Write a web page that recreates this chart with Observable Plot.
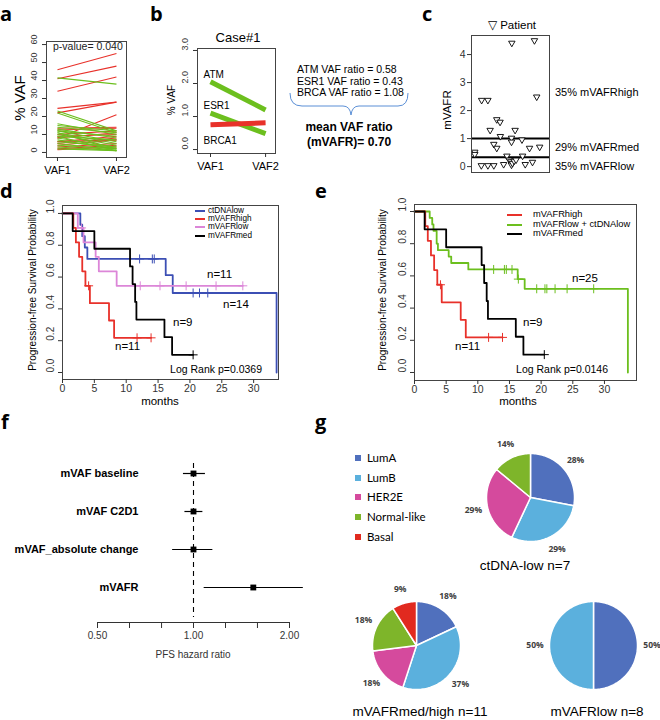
<!DOCTYPE html>
<html><head><meta charset="utf-8">
<script src="https://cdn.jsdelivr.net/npm/d3@7"></script>
<script src="https://cdn.jsdelivr.net/npm/@observablehq/plot@0.6"></script>
<style>
html,body{margin:0;padding:0;background:#fff;}
#root{position:relative;width:660px;height:720px;overflow:hidden;background:#fff;}
</style></head><body><div id="root"></div>
<script>
// ================= DATA =================
// panel a : paired VAF per mutation
const aCats = ["VAF1", "VAF2"];
const aVaf1 = [46, 41, 34, 24.5, 22, 8, 13.5, 12.5, 10, 8, 6, 5, 4, 3, 2, 1.5, 9, 6,
               41.5, 23, 22, 16, 15, 14, 12, 11, 10, 9, 8, 7, 6, 5, 4, 3, 2, 12, 11, 9, 13];
const aVaf2 = [55, 48, 42, 28, 28, 21, 14, 13.5, 12, 11, 9, 8, 7, 5, 4, 3, 10, 7,
               38, 12, 11, 10, 12, 11, 6, 5, 4, 7, 3, 2, 3, 1, 2, 1, 1, 9, 2, 1, 8];
const aYTicks = [0, 10, 20, 30, 40, 50, 60];
const aPValue = "p-value= 0.040";

// panel b : Case#1
const bGenes = ["ATM", "ESR1", "BRCA1"];
const bVaf1 = [2.05, 1.10, 0.75];
const bVaf2 = [1.20, 0.48, 0.81];
const bRatioNames = ["ATM", "ESR1", "BRCA"];
const bRatios = ["0.58", "0.43", "1.08"];
const bMean = "0.70";
const bYTicks = [0, 1, 2, 3];

// panel c : mVAFR per patient (x = jitter position)
const cX = [0.42, 0.42, 1.30, 2.10, 1.26, 2.10, 2.39, 2.86, 2.86, 3.24, 3.24, 3.66, 3.70, 4.12, 4.54, 4.83, 5.04,
            5.13, 5.17, 5.13, 5.13, 5.25, 5.46, 5.71, 5.59, 6.47, 6.55, 6.89, 7.44, 7.82, 8.07, 8.36, 8.74];
const cY = [0.52, 0.44, 2.37, 2.37, 0.04, 0.04, 1.30, 0.80, 0.04, 1.68, 0.66, 1.59, 1.08, 0.08, 0.38, 0.24, 0.18,
            0.06, 4.41, 1.02, 0.88, 0.12, 0.20, 0.24, 1.30, 0.96, 0.38, 0.08, 0.66, 0.16, 4.50, 2.49, 0.70];
const cCuts = [1.0, 0.33];
const cGroupLabels = ["35% mVAFRhigh", "29% mVAFRmed", "35% mVAFRlow"];
const cYTicks = [0, 1, 2, 3, 4];

// panels d/e : Kaplan-Meier step points (time in months, survival) and censor times
const kmHighT = [0, 1.7, 2.1, 2.6, 3.1, 3.6, 4.3, 7.3, 8.1, 13.9];
const kmHighS = [1, 0.909, 0.818, 0.727, 0.636, 0.545, 0.436, 0.327, 0.218, 0.218];
const kmHighC = [4.1, 11.7, 13.9];
const kmMedT = [0, 1.6, 5.0, 10.6, 11.0, 11.4, 11.6, 16.0, 17.2, 20.5];
const kmMedS = [1, 0.889, 0.778, 0.667, 0.556, 0.444, 0.333, 0.222, 0.111, 0.111];
const kmMedC = [20.5];
const kmLowT = [0, 2.4, 3.3, 5.2, 5.7, 8.5, 28.3];
const kmLowS = [1, 0.909, 0.818, 0.727, 0.636, 0.545, 0.545];
const kmLowC = [3.0, 12.2, 15.3, 19.4, 24.1, 28.3];
const kmCtT = [0, 2.8, 3.1, 3.5, 3.9, 16.2, 17.3, 33.6];
const kmCtS = [1, 0.929, 0.857, 0.786, 0.714, 0.612, 0.5, 0];
const kmCtC = [12.1, 14.1, 14.4, 20.5, 21.5, 22.8];
const kmLowCtT = [0, 2.4, 2.8, 3.0, 3.5, 3.7, 5.4, 5.8, 8.5, 16.3, 17.4, 33.7];
const kmLowCtS = [1, 0.96, 0.92, 0.88, 0.80, 0.76, 0.72, 0.68, 0.64, 0.58, 0.52, 0];
const kmLowCtC = [11.0, 12.5, 14.2, 14.5, 15.4, 16.4, 19.3, 20.6, 20.9, 22.2, 24.1, 28.3];
const kmXTicks = [0, 5, 10, 15, 20, 25, 30];
const kmYTicks = [0, 0.2, 0.4, 0.6, 0.8, 1.0];
const dNames = ["ctDNAlow", "mVAFRhigh", "mVAFRlow", "mVAFRmed"];
const dN = ["n=11", "n=14", "n=9", "n=11"];
const dP = "Log Rank p=0.0369";
const eNames = ["mVAFRhigh", "mVAFRlow + ctDNAlow", "mVAFRmed"];
const eN = ["n=25", "n=9", "n=11"];
const eP = "Log Rank p=0.0146";

// panel f : forest plot
const fVars = ["mVAF baseline", "mVAF C2D1", "mVAF_absolute change", "mVAFR"];
const fHR = [1.00, 1.00, 1.00, 1.54];
const fLo = [0.93, 0.94, 0.86, 1.08];
const fHi = [1.09, 1.07, 1.15, 2.21];
const fTicks = [0.5, 0.63, 0.794, 1, 1.26, 1.587, 2];
const fLabeled = [0.5, 1, 2];

// panel g : PAM50 subtype shares (%)
const gTypes = ["LumA", "LumB", "HER2E", "Normal-like", "Basal"];
const gCtLow = [28, 29, 29, 14, 0];
const gMedHigh = [18, 37, 18, 18, 9];
const gLowV = [50, 50, 0, 0, 0];
const gTitles = ["ctDNA-low n=7", "mVAFRmed/high n=11", "mVAFRlow n=8"];

// ================= STYLE =================
const FONT = "'Liberation Sans', Arial, sans-serif";
const RED = "#e8312a", GREEN = "#6cbf1e", BLUE = "#3c4fb4", PINK = "#dc86d8", BLACK = "#000";
const gColors = ["#5070bd", "#5bb0dd", "#d54a9d", "#7eb52a", "#e12a1f"];

const root = document.getElementById("root");
function place(el, left, top) {
  el.style.position = "absolute"; el.style.left = left + "px"; el.style.top = top + "px";
  el.style.background = "transparent"; el.style.overflow = "visible"; el.style.maxWidth = "none";
  root.appendChild(el); return el;
}
const overlays = [];
function txt(s, x, y, o = {}) {
  const {size = 10, anchor = "start", weight = "normal", family = FONT, rotate = 0, color = "#000"} = o;
  const d = document.createElement("div");
  d.textContent = s;
  d.style.cssText = `position:absolute;left:${x}px;top:${y}px;font-family:${family};font-size:${size}px;font-weight:${weight};color:${color};white-space:nowrap;line-height:1;`;
  const tx = anchor === "start" ? "0%" : anchor === "middle" ? "-50%" : "-100%";
  d.style.transform = `translate(${tx},-50%)` + (rotate ? ` rotate(${rotate}deg)` : "");
  overlays.push(d); return d;
}
function letter(s, x, base) {
  const size = 20;
  const d = document.createElement("div");
  d.textContent = s;
  d.style.cssText = `position:absolute;left:${x}px;top:${Math.max(0, base - 1.069 * size)}px;font-family:'Open Sans',sans-serif;font-size:${size}px;font-weight:bold;line-height:normal;color:#000;`;
  overlays.push(d);
}
function legendLine(color, x1, x2, y) {
  const d = document.createElement("div");
  d.style.cssText = `position:absolute;left:${x1}px;top:${y - 1}px;width:${x2 - x1}px;height:2px;background:${color};`;
  overlays.push(d);
}
function rotYLabels(ticks, fmt, dx, size) {
  return [
    Plot.axisY({ticks, tickSize: 4, tickFormat: () => "", stroke: "#333"}),
    Plot.text(ticks, {y: d => d, text: fmt, frameAnchor: "left", dx, rotate: -90, fontSize: size, fill: "#333"})
  ];
}
const baseStyle = {fontFamily: FONT, background: "transparent", overflow: "visible"};

// ================= PANEL A =================
const aRows = aVaf1.map((v, i) => ({v1: v, v2: aVaf2[i], up: aVaf2[i] > v}));
place(Plot.plot({
  width: 130, height: 178, marginLeft: 46, marginRight: 4, marginTop: 41, marginBottom: 21,
  style: baseStyle,
  x: {domain: [0.814, 2.17], label: null}, y: {domain: [-2.8, 61.7], label: null},
  marks: [
    Plot.link(aRows.filter(d => d.up), {x1: 1, x2: 2, y1: "v1", y2: "v2", stroke: RED, strokeWidth: 1.1}),
    Plot.link(aRows.filter(d => !d.up), {x1: 1, x2: 2, y1: "v1", y2: "v2", stroke: GREEN, strokeWidth: 1.1}),
    Plot.frame({stroke: "#444"}),
    ...rotYLabels(aYTicks, d => String(d), -12, 9),
    Plot.axisX({ticks: [1, 2], tickSize: 4, tickFormat: d => aCats[d - 1], fontSize: 11, stroke: "#333"})
  ]
}), 0, 0);
txt(aPValue, 53, 46, {size: 10.5, color: "#222"});
txt("% VAF", 19, 98, {size: 15, anchor: "middle", rotate: -90});

// ================= PANEL B =================
const bRows = bGenes.map((g, i) => ({gene: g, v1: bVaf1[i], v2: bVaf2[i], up: bVaf2[i] > bVaf1[i]}));
place(Plot.plot({
  width: 135, height: 180, marginLeft: 47, marginRight: 10, marginTop: 48, marginBottom: 27,
  style: baseStyle,
  x: {domain: [0.764, 2.18], label: null}, y: {domain: [-0.12, 3.06], label: null},
  marks: [
    Plot.link(bRows.filter(d => !d.up), {x1: 1, x2: 2, y1: "v1", y2: "v2", stroke: GREEN, strokeWidth: 5}),
    Plot.link(bRows.filter(d => d.up), {x1: 1, x2: 2, y1: "v1", y2: "v2", stroke: RED, strokeWidth: 5}),
    Plot.text(bRows.filter(d => d.gene !== "BRCA1"), {x: 1, y: "v1", text: "gene", textAnchor: "start", dx: -7, dy: -7, fontSize: 10}),
    Plot.text(bRows.filter(d => d.gene === "BRCA1"), {x: 1, y: "v1", text: "gene", textAnchor: "start", dx: -7, dy: 16, fontSize: 10}),
    Plot.frame({stroke: "#444"}),
    ...rotYLabels(bYTicks, d => d.toFixed(1), -12, 9),
    Plot.axisX({ticks: [1, 2], tickSize: 4, tickFormat: d => aCats[d - 1], fontSize: 11, stroke: "#333"})
  ]
}), 150, 0);
txt("Case#1", 238, 37, {size: 13, anchor: "middle"});
txt("% VAF", 172, 100, {size: 10, anchor: "middle", rotate: -90});
bRatioNames.forEach((n, i) => txt(`${n} VAF ratio = ${bRatios[i]}`, 297, 69 + i * 11.5, {size: 10.5}));
txt("mean VAF ratio", 349, 127, {size: 12, anchor: "middle", weight: "bold"});
txt(`(mVAFR)= ${bMean}`, 349, 142, {size: 12, anchor: "middle", weight: "bold"});
{
  const ns = "http://www.w3.org/2000/svg";
  const svg = document.createElementNS(ns, "svg");
  svg.setAttribute("width", 660); svg.setAttribute("height", 200);
  svg.style.cssText = "position:absolute;left:0;top:0;overflow:visible;";
  const p = document.createElementNS(ns, "path");
  p.setAttribute("d", "M290,93 Q290,106 302,106 L343,106 Q350,106 351,115 Q352,106 359,106 L398,106 Q408,106 408,93");
  p.setAttribute("fill", "none"); p.setAttribute("stroke", "#5b8fd6"); p.setAttribute("stroke-width", "1");
  svg.appendChild(p);
  overlays.push(svg);
}

// ================= PANEL C =================
const triDown = {
  draw(context, size) {
    const y = Math.sqrt(size / (Math.sqrt(3) * 3)), s3 = Math.sqrt(3);
    context.moveTo(0, y * 2); context.lineTo(-s3 * y, -y); context.lineTo(s3 * y, -y); context.closePath();
  }
};
const cPts = cX.map((x, i) => ({x, y: cY[i]}));
place(Plot.plot({
  width: 160, height: 190, marginLeft: 71, marginRight: 11, marginTop: 35, marginBottom: 18,
  style: baseStyle,
  x: {domain: [0, 10], axis: null, label: null}, y: {domain: [-0.21, 4.68], label: null, axis: null},
  marks: [
    Plot.ruleY(cCuts, {stroke: "#000", strokeWidth: 2}),
    Plot.dot(cPts, {x: "x", y: "y", symbol: triDown, r: 2.4, stroke: "#000", fill: "white", strokeWidth: 0.9}),
    Plot.frame({stroke: "#444"}),
    Plot.axisY({ticks: cYTicks, tickSize: 4, tickPadding: 2, fontSize: 10.5, stroke: "#333", fill: "#333", tickFormat: d => String(d)})
  ]
}), 400, 0);
txt("\u25BD Patient", 512, 26, {size: 11.5, anchor: "middle"});
txt("mVAFR", 448, 110, {size: 11.5, anchor: "middle", rotate: -90});
txt(cGroupLabels[0], 555, 92, {size: 11});
txt(cGroupLabels[1], 555, 147, {size: 11});
txt(cGroupLabels[2], 555, 166, {size: 11});

// ================= KM helper =================
function kmData(groups) {
  const lines = [], cens = [];
  groups.forEach(g => {
    g.T.forEach((t, i) => lines.push({t, s: g.S[i], g: g.name}));
    g.C.forEach(c => cens.push({t: c, s: g.S[d3.bisectRight(g.T, c) - 1], g: g.name}));
  });
  return {lines, cens};
}
function kmPlot(groups, xMax, yDom, m) {
  const {lines, cens} = kmData(groups);
  const marks = [];
  groups.forEach(g => {
    marks.push(Plot.line(lines.filter(d => d.g === g.name), {x: "t", y: "s", curve: "step-after", stroke: g.color, strokeWidth: 1.8}));
    marks.push(Plot.dot(cens.filter(d => d.g === g.name), {x: "t", y: "s", symbol: "plus", r: 3, stroke: g.color, strokeWidth: 1}));
  });
  return Plot.plot({
    width: 300, height: 230, marginLeft: m[0], marginRight: m[1], marginTop: m[2], marginBottom: m[3],
    style: baseStyle,
    x: {domain: [0, xMax], label: null}, y: {domain: yDom, label: null},
    marks: [
      ...marks,
      Plot.frame({stroke: "#444"}),
      ...rotYLabels(kmYTicks, d => d.toFixed(1), -12, 10),
      Plot.axisX({ticks: kmXTicks, tickSize: 4, tickPadding: 1, fontSize: 10.5, stroke: "#333", fill: "#333"})
    ]
  });
}

// ================= PANEL D =================
const dGroups = [
  {name: dNames[0], T: kmCtT, S: kmCtS, C: kmCtC, color: BLUE},
  {name: dNames[2], T: kmLowT, S: kmLowS, C: kmLowC, color: PINK},
  {name: dNames[1], T: kmHighT, S: kmHighS, C: kmHighC, color: RED},
  {name: dNames[3], T: kmMedT, S: kmMedS, C: kmMedC, color: BLACK}
];
place(kmPlot(dGroups, 33.9, [-0.044, 1.05], [62, 22, 15, 41]), 0, 190);
txt("months", 160, 402, {size: 11.5, anchor: "middle"});
txt("Progression-free Survival Probability", 33, 290, {size: 10, anchor: "middle", rotate: -90});
[[BLUE, dNames[0]], [RED, dNames[1]], [PINK, dNames[2]], [BLACK, dNames[3]]].forEach(([c, n], i) => {
  legendLine(c, 195, 205, 211 + i * 8.2);
  txt(n, 208, 211 + i * 8.2, {size: 8.2});
});
txt(dN[0], 207, 275, {size: 11.5});
txt(dN[1], 223, 305, {size: 11.5});
txt(dN[2], 173, 323, {size: 11.5});
txt(dN[3], 115, 347, {size: 11.5});
txt(dP, 262, 369, {size: 10.5, anchor: "end"});

// ================= PANEL E =================
const eGroups = [
  {name: eNames[1], T: kmLowCtT, S: kmLowCtS, C: kmLowCtC, color: GREEN},
  {name: eNames[0], T: kmHighT, S: kmHighS, C: kmHighC, color: RED},
  {name: eNames[2], T: kmMedT, S: kmMedS, C: kmMedC, color: BLACK}
];
place(kmPlot(eGroups, 35.06, [-0.0497, 1.0435], [64, 14, 14, 40]), 350, 190);
txt("months", 518, 402, {size: 11.5, anchor: "middle"});
txt("Progression-free Survival Probability", 383, 290, {size: 10, anchor: "middle", rotate: -90});
[[RED, eNames[0]], [GREEN, eNames[1]], [BLACK, eNames[2]]].forEach(([c, n], i) => {
  legendLine(c, 507, 522, 215 + i * 9.5);
  txt(n, 533, 215 + i * 9.5, {size: 9.3});
});
txt(eN[0], 572, 279, {size: 11.5});
txt(eN[1], 523, 323, {size: 11.5});
txt(eN[2], 455, 347, {size: 11.5});
txt(eP, 608, 369, {size: 10.5, anchor: "end"});

// ================= PANEL F =================
const fRows = fVars.map((v, i) => ({name: v, i, hr: fHR[i], lo: fLo[i], hi: fHi[i]}));
place(Plot.plot({
  width: 330, height: 230, marginLeft: 97, marginRight: 41, marginTop: 10, marginBottom: 48,
  style: baseStyle,
  x: {type: "log", domain: [0.5, 2], label: null},
  y: {domain: [0, 3], range: [33, 147], label: null, axis: null},
  marks: [
    Plot.ruleX([1], {y1: -0.26, y2: 3.79, stroke: "#000", strokeDasharray: "5,4", strokeWidth: 1.1}),
    Plot.ruleY(fRows, {y: "i", x1: "lo", x2: "hi", stroke: "#000", strokeWidth: 1.2}),
    Plot.dot(fRows, {x: "hr", y: "i", symbol: "square", r: 3.3, fill: "#000"}),
    Plot.text(fRows, {y: "i", text: "name", frameAnchor: "left", dx: 41, textAnchor: "end", fontSize: 11, fontWeight: "bold"}),
    Plot.frame({anchor: "bottom", stroke: "#333"}),
    Plot.axisX({ticks: fTicks, tickSize: 6, tickPadding: 3, fontSize: 10, stroke: "#333", fill: "#333",
      tickFormat: d => fLabeled.includes(d) ? d.toFixed(2) : ""})
  ]
}), 0, 440);
txt("PFS hazard ratio", 193, 655, {size: 10, anchor: "middle", color: "#333"});

// ================= PANEL G =================
function pie(values, cx, cy) {
  const R = 44, half = 72;
  const items = gTypes.map((t, i) => ({type: t, value: values[i]})).filter(d => d.value > 0);
  const arcs = d3.pie().sort(null).value(d => d.value)(items);
  const poly = [];
  arcs.forEach((a, k) => {
    const n = Math.max(2, Math.ceil((a.endAngle - a.startAngle) / 0.03));
    poly.push({slice: k, type: a.data.type, x: 0, y: 0});
    for (let j = 0; j <= n; j++) {
      const ang = a.startAngle + (a.endAngle - a.startAngle) * j / n;
      poly.push({slice: k, type: a.data.type, x: Math.sin(ang), y: Math.cos(ang)});
    }
  });
  const labels = arcs.map(a => {
    const m = (a.startAngle + a.endAngle) / 2;
    return {x: 1.33 * Math.sin(m), y: 1.33 * Math.cos(m), text: a.data.value + "%"};
  });
  place(Plot.plot({
    width: 2 * half, height: 2 * half, margin: 0, style: baseStyle,
    x: {domain: [-half / R, half / R], axis: null}, y: {domain: [-half / R, half / R], axis: null},
    color: {domain: gTypes, range: gColors},
    marks: [
      Plot.line(poly, {x: "x", y: "y", z: "slice", fill: "type", stroke: "white", strokeWidth: 1.5, curve: "linear-closed", strokeLinejoin: "round"}),
      Plot.text(labels, {x: "x", y: "y", text: "text", fontSize: 8.5, fontWeight: "bold", fill: "#404040", fontFamily: "'Open Sans', sans-serif"})
    ]
  }), cx - half, cy - half);
}
pie(gCtLow, 530, 497);
pie(gMedHigh, 416, 645);
pie(gLowV, 593, 645);
txt(gTitles[0], 525, 566, {size: 13.5, anchor: "middle"});
txt(gTitles[1], 420, 712, {size: 13.5, anchor: "middle"});
txt(gTitles[2], 597, 712, {size: 13.5, anchor: "middle"});
gTypes.forEach((t, i) => {
  const y = 458 + i * 19.7;
  const sq = document.createElement("div");
  sq.style.cssText = `position:absolute;left:355px;top:${y - 3}px;width:6px;height:6px;background:${gColors[i]};`;
  overlays.push(sq);
  txt(t, 367, y, {size: 11.5, family: "Lato, 'Open Sans', sans-serif"});
});

// ================= LETTERS =================
letter("a", 0, 21.5); letter("b", 150, 21.5); letter("c", 422, 21.5);
letter("d", 0, 198); letter("e", 315, 198); letter("f", 1, 429); letter("g", 315, 429);

overlays.forEach(o => root.appendChild(o));
</script>
</body></html>
